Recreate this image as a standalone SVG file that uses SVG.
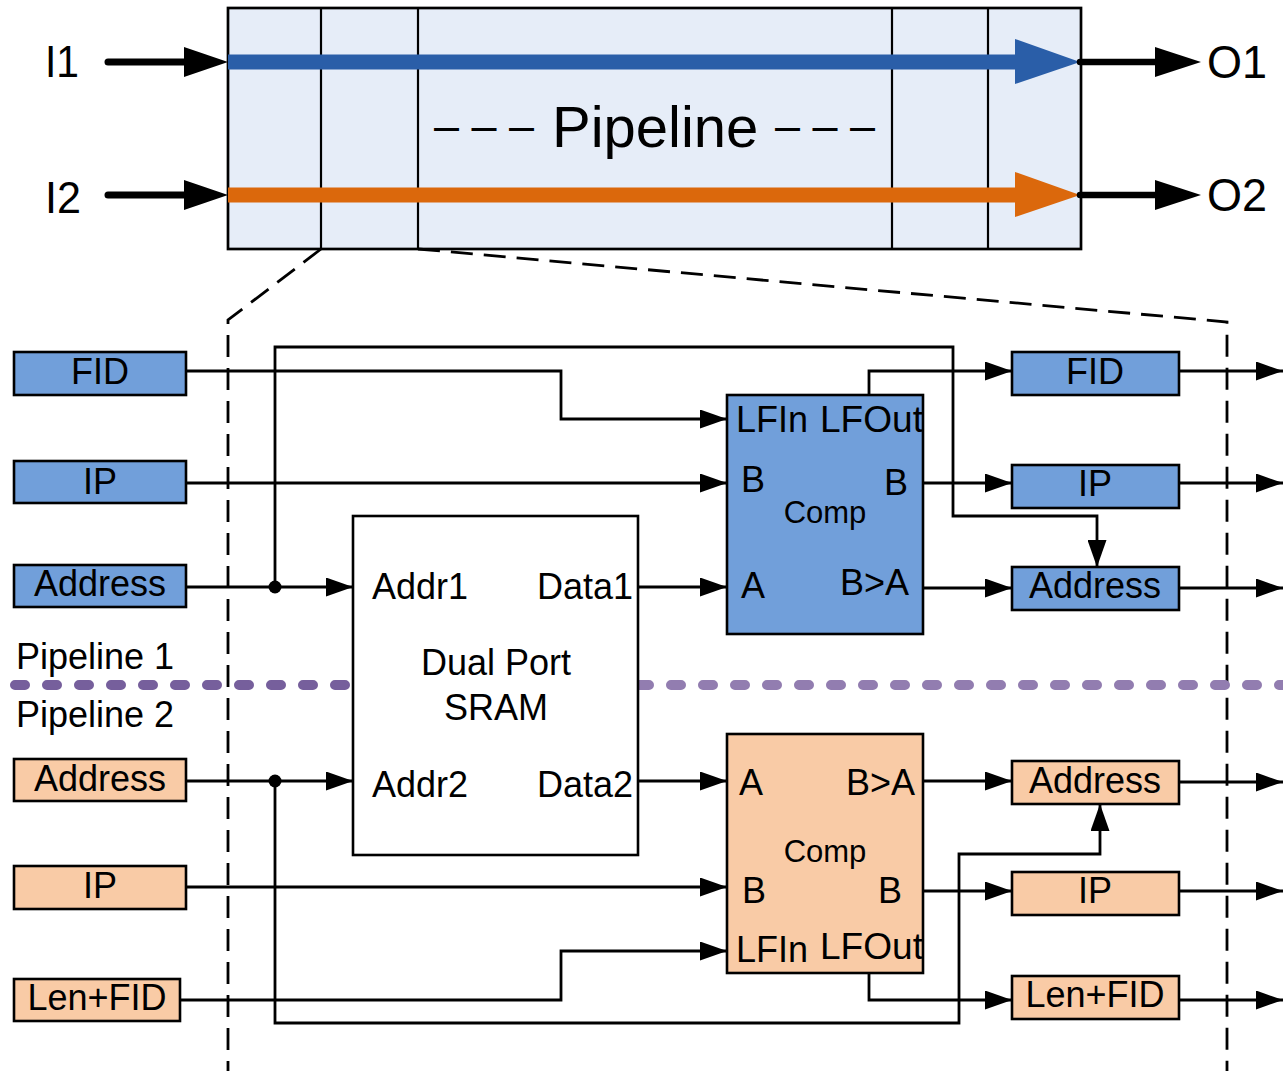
<svg xmlns="http://www.w3.org/2000/svg" width="1283" height="1071" viewBox="0 0 1283 1071">
<defs>
<style>
text{font-family:"Liberation Sans",Arial,sans-serif;fill:#000}
.t36{font-size:36px}
.c{text-anchor:middle}
.box{stroke:#000;stroke-width:2.6}
.blue{fill:#719FDA}
.orange{fill:#F9CBA6}
.w{fill:#fff}
.con{fill:none;stroke:#000;stroke-width:2.8}
.arr{marker-end:url(#ah)}
.zoom{fill:none;stroke:#000;stroke-width:2.8;stroke-dasharray:22 11}
.div{stroke:#000;stroke-width:2.2}
</style>
<marker id="ah" viewBox="0 0 27 19" markerWidth="27" markerHeight="19" refX="27" refY="9.5" markerUnits="userSpaceOnUse" orient="auto">
<path d="M0,0L27,9.5L0,19z" fill="#000"/>
</marker>
</defs>
<rect width="1283" height="1071" fill="#fff"/>

<g id="top-pipeline">
<rect x="228" y="8" width="853" height="241" fill="#E6EDF8" stroke="#000" stroke-width="2.7"/>
<line class="div" x1="321" y1="8" x2="321" y2="249"/>
<line class="div" x1="418" y1="8" x2="418" y2="249"/>
<line class="div" x1="892" y1="8" x2="892" y2="249"/>
<line class="div" x1="988" y1="8" x2="988" y2="249"/>
<line x1="228" y1="62" x2="1020" y2="62" stroke="#2A5EA8" stroke-width="15"/>
<polygon points="1015,39 1080,62 1015,84" fill="#2A5EA8"/>
<line x1="228" y1="195" x2="1020" y2="195" stroke="#DB680C" stroke-width="15"/>
<polygon points="1015,172 1080,195 1015,217" fill="#DB680C"/>
<text y="147" style="font-size:58px"><tspan x="434" y="141" style="font-size:45px">– – –</tspan><tspan x="552" y="147">Pipeline</tspan><tspan x="775" y="141" style="font-size:45px">– – –</tspan></text>
</g>

<g id="io-arrows">
<line x1="108" y1="62" x2="186" y2="62" stroke="#000" stroke-width="7" stroke-linecap="round"/>
<polygon points="184,47 228,62 184,77" fill="#000"/>
<line x1="108" y1="195" x2="186" y2="195" stroke="#000" stroke-width="7" stroke-linecap="round"/>
<polygon points="184,180 228,195 184,210" fill="#000"/>
<line x1="1080" y1="62" x2="1158" y2="62" stroke="#000" stroke-width="6.5" stroke-linecap="round"/>
<polygon points="1155,47 1201,62 1155,77" fill="#000"/>
<line x1="1080" y1="195" x2="1158" y2="195" stroke="#000" stroke-width="6.5" stroke-linecap="round"/>
<polygon points="1155,180 1201,195 1155,210" fill="#000"/>
<text x="45" y="77" style="font-size:44px" textLength="34" lengthAdjust="spacingAndGlyphs">I1</text>
<text x="45" y="213" style="font-size:44px" textLength="36" lengthAdjust="spacingAndGlyphs">I2</text>
<text x="1207" y="78" style="font-size:47px" textLength="60" lengthAdjust="spacingAndGlyphs">O1</text>
<text x="1207" y="211" style="font-size:47px" textLength="60" lengthAdjust="spacingAndGlyphs">O2</text>
</g>

<g id="zoom-lines">
<polyline class="zoom" points="321,249 228,320 228,1071"/>
<polyline class="zoom" points="418,249 1227,322 1227,1071"/>
</g>

<g id="separator">
<line x1="15" y1="685" x2="350" y2="685" stroke="#765F9C" stroke-width="10" stroke-linecap="round" stroke-dasharray="10 22"/>
<line x1="639" y1="685" x2="1283" y2="685" stroke="#927DB0" stroke-width="10" stroke-linecap="round" stroke-dasharray="10 22"/>
<text class="t36" x="16" y="669">Pipeline 1</text>
<text class="t36" x="16" y="727">Pipeline 2</text>
</g>

<g id="connectors">
<polyline class="con arr" points="186,371 561,371 561,419 727,419"/>
<polyline class="con arr" points="186,483 727,483"/>
<polyline class="con arr" points="186,587 353,587"/>
<polyline class="con arr" points="275,587 275,347 953,347 953,516 1097,516 1097,567"/>
<polyline class="con arr" points="638,587 727,587"/>
<polyline class="con arr" points="869,395 869,371 1012,371"/>
<polyline class="con arr" points="923,483 1012,483"/>
<polyline class="con arr" points="923,588 1012,588"/>
<polyline class="con arr" points="1179,371 1283,371"/>
<polyline class="con arr" points="1179,483 1283,483"/>
<polyline class="con arr" points="1179,588 1283,588"/>
<polyline class="con arr" points="186,781 353,781"/>
<polyline class="con arr" points="275,781 275,1023 959,1023 959,854 1100,854 1100,804"/>
<polyline class="con arr" points="186,887 727,887"/>
<polyline class="con arr" points="180,1000 561,1000 561,951 727,951"/>
<polyline class="con arr" points="638,781 727,781"/>
<polyline class="con arr" points="923,781 1012,781"/>
<polyline class="con arr" points="923,891 1012,891"/>
<polyline class="con arr" points="869,973 869,1000 1012,1000"/>
<polyline class="con arr" points="1179,782 1283,782"/>
<polyline class="con arr" points="1179,891 1283,891"/>
<polyline class="con arr" points="1179,1000 1283,1000"/>
<circle cx="275" cy="587" r="6.5" fill="#000"/>
<circle cx="275" cy="781" r="6.5" fill="#000"/>
</g>

<g id="in1-fid"><rect class="box blue" x="14" y="352" width="172" height="43"/><text class="t36 c" x="100" y="384">FID</text></g>
<g id="in1-ip"><rect class="box blue" x="14" y="461" width="172" height="42"/><text class="t36 c" x="100" y="494">IP</text></g>
<g id="in1-address"><rect class="box blue" x="14" y="565" width="172" height="42"/><text class="t36 c" x="100" y="596">Address</text></g>

<g id="in2-address"><rect class="box orange" x="14" y="759" width="172" height="42"/><text class="t36 c" x="100" y="791">Address</text></g>
<g id="in2-ip"><rect class="box orange" x="14" y="866" width="172" height="43"/><text class="t36 c" x="100" y="898">IP</text></g>
<g id="in2-lenfid"><rect class="box orange" x="14" y="979" width="166" height="42"/><text class="t36 c" x="97" y="1010">Len+FID</text></g>

<g id="sram">
<rect class="box w" x="353" y="516" width="285" height="339"/>
<text class="t36" x="372" y="599">Addr1</text>
<text class="t36" x="537" y="599">Data1</text>
<text class="t36 c" x="496" y="675">Dual Port</text>
<text class="t36 c" x="496" y="720">SRAM</text>
<text class="t36" x="372" y="797">Addr2</text>
<text class="t36" x="537" y="797">Data2</text>
</g>

<g id="comp1">
<rect class="box blue" x="727" y="395" width="196" height="239"/>
<text class="t36" x="736" y="432">LFIn</text>
<text class="t36" x="820" y="432" textLength="103" lengthAdjust="spacingAndGlyphs">LFOut</text>
<text class="t36" x="741" y="492">B</text>
<text class="t36" x="884" y="495">B</text>
<text class="c" x="825" y="523" style="font-size:31px">Comp</text>
<text class="t36" x="741" y="598">A</text>
<text class="t36" x="840" y="595">B&gt;A</text>
</g>

<g id="comp2">
<rect class="box orange" x="727" y="734" width="196" height="239"/>
<text class="t36" x="739" y="795">A</text>
<text class="t36" x="846" y="795">B&gt;A</text>
<text class="c" x="825" y="862" style="font-size:31px">Comp</text>
<text class="t36" x="742" y="903">B</text>
<text class="t36" x="878" y="903">B</text>
<text class="t36" x="736" y="962">LFIn</text>
<text class="t36" x="820" y="959" textLength="103" lengthAdjust="spacingAndGlyphs">LFOut</text>
</g>

<g id="out1-fid"><rect class="box blue" x="1012" y="352" width="167" height="43"/><text class="t36 c" x="1095" y="384">FID</text></g>
<g id="out1-ip"><rect class="box blue" x="1012" y="465" width="167" height="43"/><text class="t36 c" x="1095" y="496">IP</text></g>
<g id="out1-address"><rect class="box blue" x="1012" y="567" width="167" height="43"/><text class="t36 c" x="1095" y="598">Address</text></g>

<g id="out2-address"><rect class="box orange" x="1012" y="761" width="167" height="43"/><text class="t36 c" x="1095" y="793">Address</text></g>
<g id="out2-ip"><rect class="box orange" x="1012" y="872" width="167" height="43"/><text class="t36 c" x="1095" y="903">IP</text></g>
<g id="out2-lenfid"><rect class="box orange" x="1012" y="976" width="167" height="43"/><text class="t36 c" x="1095" y="1007">Len+FID</text></g>
</svg>
